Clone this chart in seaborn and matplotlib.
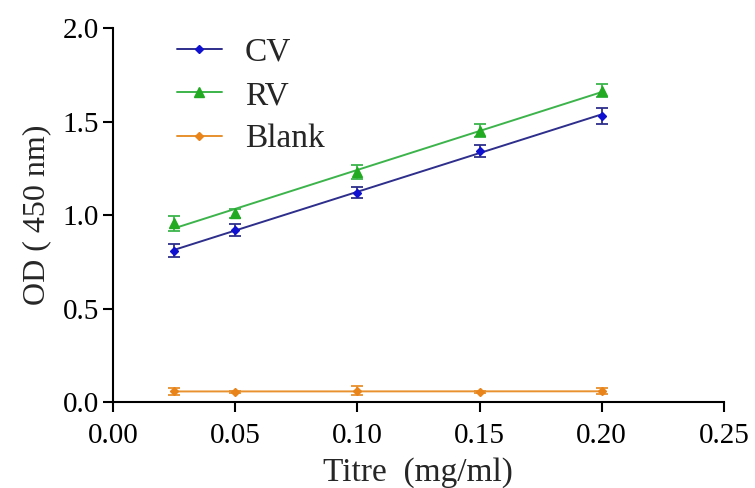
import numpy as np
import pandas as pd
import matplotlib
matplotlib.use("Agg")
import matplotlib.pyplot as plt
from matplotlib.lines import Line2D
import seaborn as sns

titre = [0.025, 0.05, 0.10, 0.15, 0.20]
cv_mean = [0.81, 0.92, 1.12, 1.345, 1.53]
cv_err = [0.034, 0.034, 0.03, 0.032, 0.045]
rv_mean = [0.955, 1.01, 1.23, 1.45, 1.665]
rv_err = [0.042, 0.025, 0.035, 0.035, 0.036]
blank_mean = [0.057, 0.055, 0.062, 0.055, 0.058]
blank_err = [0.02, 0.005, 0.025, 0.005, 0.015]

series = ["CV", "RV", "Blank"]
means = [cv_mean, rv_mean, blank_mean]
errs = [cv_err, rv_err, blank_err]
line_colors = ["#2e2e8c", "#3cb44b", "#e8912e"]
marker_colors = ["#1010d0", "#22aa22", "#e8841a"]
markers = ["D", "^", "D"]
msizes = [4.5, 6.5, 4.5]

sns.set_style("ticks")
plt.rcParams["font.family"] = ["Liberation Serif", "DejaVu Serif"]

fig = plt.figure(figsize=(7.55, 4.88), dpi=100)
ax = fig.add_axes([0.1497, 0.176, 0.809, 0.7666])

handles = []
for name, m, e, lc, mc, mk, ms in zip(series, means, errs, line_colors, marker_colors, markers, msizes):
    df = pd.DataFrame({"x": titre, "y": m})
    sns.regplot(data=df, x="x", y="y", ax=ax, ci=None, scatter=False, truncate=True,
                line_kws={"color": lc, "lw": 1.4})
    ax.errorbar(titre, m, yerr=e, fmt="none", ecolor=lc, elinewidth=1.3, capsize=4, capthick=1.3)
    ax.plot(titre, m, linestyle="none", marker=mk, color=mc, markersize=ms)
    handles.append(Line2D([], [], color=lc, lw=1.4, marker=mk, markerfacecolor=mc,
                          markeredgecolor=mc, markersize=ms))

ax.set_xlim(0, 0.25)
ax.set_ylim(0, 2.0)
ax.set_xticks([0.00, 0.05, 0.10, 0.15, 0.20, 0.25])
ax.set_xticklabels(["0.00", "0.05", "0.10", "0.15", "0.20", "0.25"])
ax.set_yticks([0.0, 0.5, 1.0, 1.5, 2.0])
ax.set_yticklabels(["0.0", "0.5", "1.0", "1.5", "2.0"])
ax.tick_params(axis="both", labelsize=21, length=7, width=1.5, direction="out", colors="black", pad=3)
ax.tick_params(axis="x", pad=8)
for s in ["left", "bottom"]:
    ax.spines[s].set_linewidth(1.5)
    ax.spines[s].set_color("black")
sns.despine(ax=ax)
ax.set_xlabel("Titre  (mg/ml)", fontsize=24, labelpad=6)
ax.set_ylabel("OD ( 450 nm)", fontsize=23, labelpad=8)

leg = ax.legend(handles, series, loc="upper left", bbox_to_anchor=(0.055, 1.055), frameon=False,
                fontsize=24, handlelength=1.35, handletextpad=0.7, labelspacing=0.38)

fig.savefig("out.png", dpi=100)
